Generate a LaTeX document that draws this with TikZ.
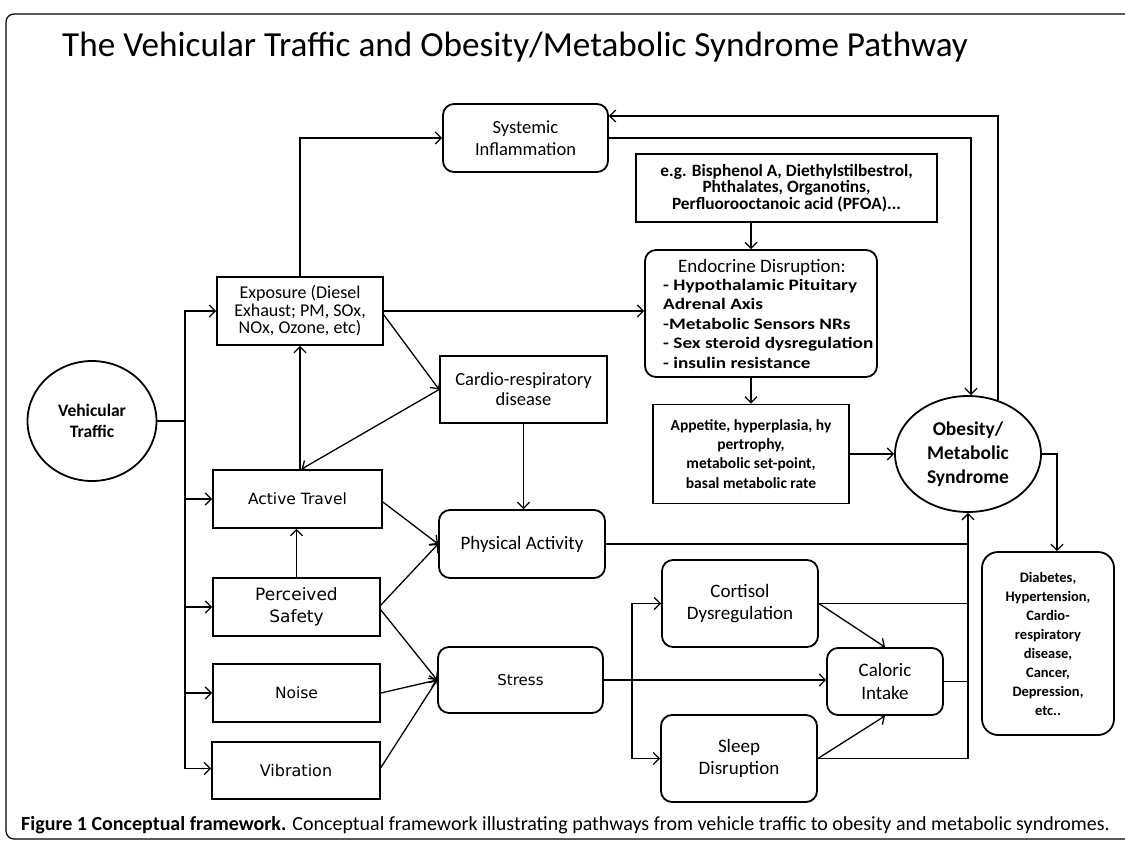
\documentclass[tikz,border=0pt]{standalone}
\usepackage{fontspec}
\setmainfont{Carlito}
\newfontfamily\dv{DejaVu Sans}
\newfontfamily\wcar[FakeStretch=1.2]{Carlito}
\usetikzlibrary{arrows.meta,shapes.geometric}
\newcommand{\fs}[1]{\fontsize{#1}{\fpeval{1.2*#1}}\selectfont}
\begin{document}
\begin{tikzpicture}[x=1pt,y=-1pt,
  bx/.style={draw, line width=1.8pt, inner sep=2pt, align=center},
  rbx/.style={bx, rounded corners=11pt},
  ell/.style={draw, line width=1.8pt, ellipse, inner sep=0pt, align=center},
  arr/.style={line width=1.3pt, -{Straight Barb[length=6pt,width=12pt,line width=1.3pt]}},
  ln/.style={line width=1.3pt},
  tx/.style={inner sep=0pt, align=left, anchor=north west}]
\useasboundingbox (0,0) rectangle (1125,841);
\fill[white] (0,0) rectangle (1125,841);
\draw[line width=1.2pt, rounded corners=8pt] (6,14) rectangle (1140,839);
\node[inner sep=0pt, anchor=west, font=\fs{35.2}] (title) at (62,47) {The Vehicular Traffic and Obesity/Metabolic Syndrome Pathway};
\node[inner sep=0pt, anchor=west, font=\fs{20}] (cap) at (21,825) {\textbf{Figure 1 Conceptual framework.} Conceptual framework illustrating pathways from vehicle traffic to obesity and metabolic syndromes.};
% nodes
\node[rbx, font=\fs{18.5}, minimum width=165pt, minimum height=68pt] (sys) at (525.5,138) {Systemic\\Inflammation};
\node[bx, font=\fs{17.3}\bfseries, minimum width=301pt, minimum height=68pt] (eg) at (786.5,188) {e.g. Bisphenol A, Diethylstilbestrol,\\[-4.3pt]Phthalates, Organotins,\\[-4.3pt]Perfluorooctanoic acid (PFOA)...};
\node[rbx, minimum width=232pt, minimum height=127pt] (endo) at (761,313.5) {};
\node[inner sep=0pt, font=\fs{19}] (endot) at (762,267) {Endocrine Disruption:};
\node[tx, font=\wcar\fs{16}\bfseries] (endoi) at (663,279) {- Hypothalamic Pituitary\\[0.2pt]Adrenal Axis\\[0.2pt]-Metabolic Sensors NRs\\[0.2pt]- Sex steroid dysregulation\\[0.2pt]- insulin resistance};
\node[bx, font=\fs{15.5}\bfseries, minimum width=196pt, minimum height=99pt] (app) at (751,454) {Appetite, hyperplasia, hy\\[0.5pt]pertrophy,\\[0.5pt]metabolic set-point,\\[0.5pt]basal metabolic rate};
\node[ell, font=\fs{19.5}\bfseries, minimum width=146pt, minimum height=116pt] (obe) at (968,454) {Obesity/\\[0.5pt]Metabolic\\[0.5pt]Syndrome};
\node[rbx, rounded corners=16pt, font=\fs{14.5}\bfseries, minimum width=132pt, minimum height=183pt] (dia) at (1048,643.5) {Diabetes,\\[1.6pt]Hypertension,\\[1.6pt]Cardio-\\[1.6pt]respiratory\\[1.6pt]disease,\\[1.6pt]Cancer,\\[1.6pt]Depression,\\[1.6pt]etc..};
\node[ell, font=\fs{17.5}\bfseries, minimum width=129pt, minimum height=120pt] (veh) at (92,421) {Vehicular\\[0.5pt]Traffic};
\node[bx, font=\fs{18}, minimum width=166pt, minimum height=68pt] (exp) at (300,311) {Exposure (Diesel\\[-4pt]Exhaust; PM, SOx,\\[-4pt]NOx, Ozone, etc)};
\node[bx, font=\dv\fs{15.5}, minimum width=169pt, minimum height=58pt] (act) at (297.5,499) {Active Travel};
\node[bx, font=\dv\fs{17}, minimum width=167pt, minimum height=58pt] (saf) at (296.5,607) {Perceived\\[1.5pt]Safety};
\node[bx, font=\dv\fs{15.5}, minimum width=167pt, minimum height=58pt] (noi) at (296.5,693) {Noise};
\node[bx, font=\dv\fs{16}, minimum width=168pt, minimum height=57pt] (vib) at (296,770.5) {Vibration};
\node[bx, font=\fs{18.5}, minimum width=167pt, minimum height=67pt] (car) at (523.5,389.5) {Cardio-respiratory\\[-2pt]disease};
\node[rbx, font=\fs{19}, minimum width=166pt, minimum height=68pt] (phy) at (522,544) {Physical Activity};
\node[rbx, font=\dv\fs{15}, minimum width=165pt, minimum height=66pt] (str) at (520.5,680) {Stress};
\node[rbx, font=\fs{19}, minimum width=156pt, minimum height=87pt] (cor) at (740,603.5) {Cortisol\\Dysregulation};
\node[rbx, font=\fs{19}, minimum width=156pt, minimum height=87pt] (slp) at (739,758.5) {Sleep\\Disruption};
\node[rbx, font=\fs{19}, minimum width=116pt, minimum height=67pt] (cal) at (885,681.5) {Caloric\\Intake};
% connectors
\coordinate (tr) at (185,421);
\draw[ln] (veh.east) -- (tr);
\draw[arr] (tr) |- (exp.west);
\draw[arr] (tr) |- (act.west);
\draw[arr] (tr) |- (saf.west);
\draw[arr] (tr) |- (noi.west);
\draw[arr] (tr) |- ([yshift=2pt]vib.west);
\draw[arr] (exp.north) |- (sys.west);
\draw[arr] (act.north -| exp.south) -- (exp.south);
\draw[arr] (saf.north) -- (saf.north |- act.south);
\draw[arr] (exp.east) -- (exp.east -| endo.west);
\draw[arr] ([yshift=-4pt]exp.east) -- (car.west);
\draw[arr] (car.west) -- ([xshift=4pt]act.north);
\draw[arr] (car.south) -- (car.south |- phy.north);
\draw[arr] ([yshift=-3pt]act.east) -- (phy.west);
\draw[arr] ([yshift=2pt]saf.east) -- (phy.west);
\draw[arr] ([yshift=-3pt]saf.east) -- (str.west);
\draw[arr] (noi.east) -- (str.west);
\draw[arr] ([yshift=3pt]vib.east) -- (str.west);
\draw[arr] (str.east) -- (str.east -| cal.west);
\coordinate (br) at (632,680);
\draw[arr] (br) |- (cor.west);
\draw[arr] (br) |- (slp.west);
\draw[arr] (cor.east) -- (cal.north);
\draw[arr] (slp.east) -- (cal.south);
\draw[ln] (phy.east) -- (phy.east -| obe.south);
\draw[ln] (cor.east) -- (cor.east -| obe.south);
\draw[ln] (cal.east) -- (cal.east -| obe.south);
\draw[arr] (slp.east) -| (obe.south);
\draw[arr] (app.east |- obe.west) -- (obe.west);
\draw[arr] (app.north |- endo.south) -- (app.north);
\draw[arr] (eg.south -| app.north) -- (app.north |- endo.north);
\draw[arr] (sys.east) -| ([xshift=3pt]obe.north);
\draw[arr] (obe.61) |- ([yshift=22pt]sys.east);
\draw[arr] (obe.east) -| ([xshift=9pt]dia.north);
\end{tikzpicture}
\end{document}
